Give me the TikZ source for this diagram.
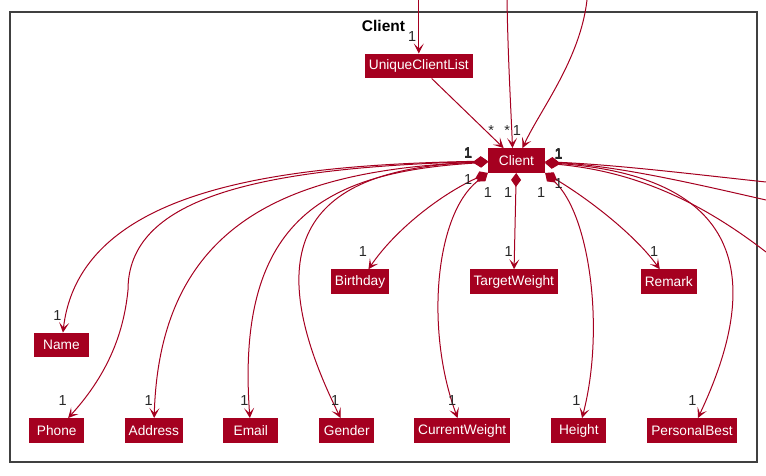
\documentclass[tikz,border=0pt]{standalone}
\usepackage{fontspec}
\newfontfamily\umlfont{Liberation Sans}
\usetikzlibrary{arrows.meta}
\definecolor{umlred}{RGB}{165,0,32}
\definecolor{multgray}{RGB}{40,40,40}
\tikzset{
  cls/.style={fill=umlred, text=white, font=\umlfont\fontsize{13.7}{16}\selectfont,
    inner xsep=4pt, inner ysep=0pt, minimum width=55pt, minimum height=24.5pt},
  mult/.style={font=\umlfont\fontsize{14.5}{16}\selectfont, text=multgray, inner sep=1pt},
  tgt/.style={mult, pos=1, anchor=south east, yshift=11pt},
  srcw/.style={mult, pos=0, anchor=south east, xshift=-14pt, yshift=2pt},
  srcsw/.style={mult, pos=0, anchor=north east, xshift=-14pt},
  srce/.style={mult, pos=0, anchor=south west, xshift=8pt, yshift=2pt},
  srcse/.style={mult, pos=0, anchor=north west, xshift=8pt, yshift=-4pt},
  srcs/.style={mult, pos=0, anchor=north, yshift=-13pt},
  comp/.style={draw=umlred, line width=1pt,
    arrows={Diamond[length=14pt,width=10pt]-Stealth[length=10pt,width=10pt,inset=5pt]}},
  compx/.style={draw=umlred, line width=1pt, arrows={Diamond[length=14pt,width=10pt]-}},
  assoc/.style={draw=umlred, line width=1pt, arrows={-Stealth[length=10pt,width=10pt,inset=5pt]}},
}
\begin{document}
\begin{tikzpicture}[x=1pt, y=-1pt]
   \useasboundingbox (0,0) rectangle (766,476);
   \draw[black!75, line width=1.4pt] (10,12) rectangle (757,462);
   \node[font=\umlfont\bfseries\fontsize{15.5}{18}\selectfont] (pkgname) at (383.5,26) {Client};

   \begin{scope}[every node/.style={cls}]
    \node (ucl) at (418.8,66) {UniqueClientList};
    \node[minimum width=57pt] (client) at (516.5,160.5) {Client};
    \node (birthday) at (360,281.7) {Birthday};
    \node (targetweight) at (513.8,281.7) {TargetWeight};
    \node (remark) at (668.8,281.7) {Remark};
    \node (name) at (61.5,345) {Name};
    \node (phone) at (56.8,430.5) {Phone};
    \node (address) at (153.8,430.5) {Address};
    \node (email) at (250.8,430.5) {Email};
    \node (gender) at (346.8,430.5) {Gender};
    \node (currentweight) at (462.2,430.5) {CurrentWeight};
    \node (height) at (578.8,430.5) {Height};
    \node (personalbest) at (692,430.5) {PersonalBest};
   \end{scope}

   \coordinate (top1) at (418.8,0);
   \coordinate (top2) at (507,0);
   \coordinate (top3) at (587,0);
   \coordinate (ext1) at (766,182);
   \coordinate (ext2) at (766,200);
   \coordinate (ext3) at (766,252);

   % from outside the package
   \draw[assoc] (top1) -- (ucl) node[tgt, xshift=-1pt]{1};
   \draw[assoc] (ucl) -- (client) node[tgt, xshift=-8pt]{*};
   \draw[assoc] (top2) .. controls (508,60) and (511,110) .. ([xshift=-4pt]client.north) node[tgt, xshift=-1pt]{*};
   \draw[assoc] (top3) .. controls (580,60) and (540,110) .. ([xshift=6pt]client.north) node[tgt]{1};

   % left side
   \draw[comp] (client) .. controls (290,165) and (80,185) .. (name) node[tgt]{1} node[srcw]{1};
   \draw[comp] (client) .. controls (250,168) and (128,200) .. (128,290) node[srcw]{1}
      .. controls (124,330) and (110,372) .. (phone) node[tgt]{1};
   \draw[comp] (client) .. controls (300,170) and (160,215) .. (address) node[tgt]{1} node[srcw]{1};
   \draw[comp] (client) .. controls (330,172) and (235,215) .. (email) node[tgt]{1} node[srcw]{1};
   \draw[comp] (client) .. controls (340,168) and (240,215) .. (gender) node[tgt]{1} node[srcw]{1};
   \draw[comp] (client.south west) .. controls (440,195) and (395,230) .. (birthday) node[tgt]{1} node[srcsw]{1};
   \draw[comp] (client.south west) .. controls (435,215) and (425,330) .. (currentweight) node[tgt]{1} node[srcs]{1};

   % below and right side
   \draw[comp] (client) -- (targetweight) node[tgt]{1} node[srcs, xshift=-8pt]{1};
   \draw[comp] (client.south east) .. controls (590,215) and (605,330) .. (height) node[tgt]{1} node[srcs, xshift=-4pt]{1};
   \draw[comp] (client.south east) .. controls (590,200) and (635,235) .. (remark) node[tgt]{1} node[srcse]{1};
   \draw[comp] (client) .. controls (720,175) and (775,255) .. (personalbest) node[tgt]{1} node[srce]{1};
   \draw[compx] (client) .. controls (620,165) and (700,175) .. (ext1) node[srce]{1};
   \draw[compx] (client) .. controls (620,166) and (700,185) .. (ext2) node[srce]{1};
   \draw[compx] (client) .. controls (640,172) and (705,205) .. (ext3) node[srce]{1};
\end{tikzpicture}
\end{document}
